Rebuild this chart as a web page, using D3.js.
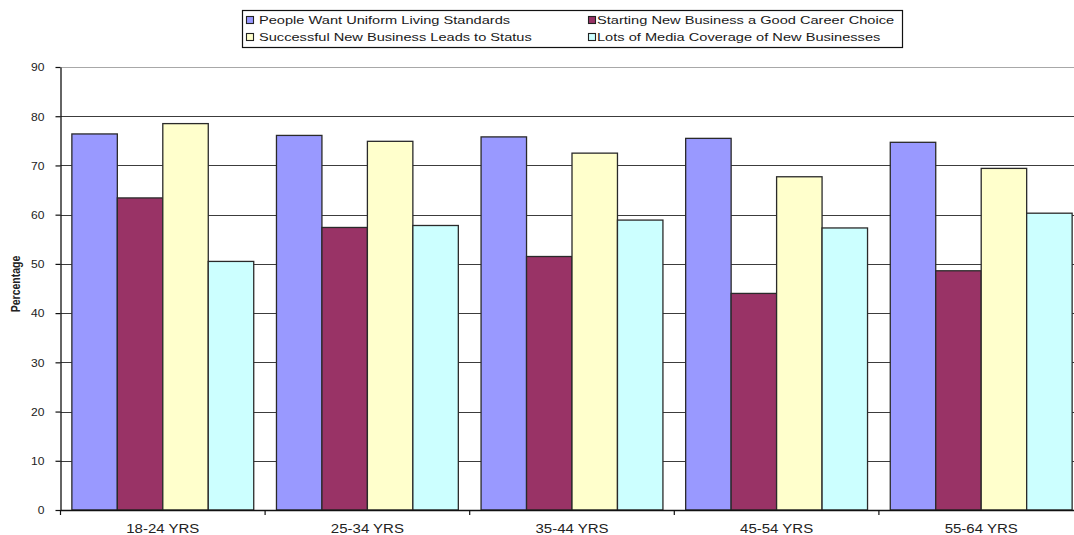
<!DOCTYPE html>
<html>
<head>
<meta charset="utf-8">
<script src="https://cdn.jsdelivr.net/npm/d3@7"></script>
<style>
  html, body { margin: 0; padding: 0; background: #fff; }
  svg { display: block; font-family: "Liberation Sans", Arial, sans-serif; }
</style>
</head>
<body>
<svg id="chart" width="1074" height="535"></svg>
<script>
// Age groups and the four survey statements (percent agreeing)
const categories = ["18-24 YRS", "25-34 YRS", "35-44 YRS", "45-54 YRS", "55-64 YRS"];
const seriesNames = [
  "People Want Uniform Living Standards",
  "Starting New Business a Good Career Choice",
  "Successful New Business Leads to Status",
  "Lots of Media Coverage of New Businesses"
];
const uniformLiving = [76.4, 76.1, 75.8, 75.5, 74.7];
const goodCareer    = [63.4, 57.4, 51.5, 44.0, 48.6];
const leadsToStatus = [78.5, 74.9, 72.5, 67.7, 69.4];
const mediaCoverage = [50.5, 57.8, 58.9, 57.3, 60.3];
const yTicks = [0, 10, 20, 30, 40, 50, 60, 70, 80, 90];
const colors = ["#9999ff", "#993366", "#ffffcc", "#ccffff"];

const seriesValues = [uniformLiving, goodCareer, leadsToStatus, mediaCoverage];

const svg = d3.select("#chart");
const plot = { left: 60.5, right: 1083.5, top: 67, bottom: 510 };

const x0 = d3.scaleBand().domain(categories).range([plot.left, plot.right]).padding(0);
const x1 = d3.scaleBand().domain(d3.range(seriesNames.length))
  .range([0, x0.bandwidth()]).paddingInner(0).paddingOuter(0.25);
const y = d3.scaleLinear().domain([0, 90]).range([plot.bottom, plot.top]);

// stretch text horizontally (wide, flat lettering)
function stretch(sel, sx) {
  sel.each(function () {
    const w = this.getComputedTextLength();
    d3.select(this).attr("textLength", w * sx).attr("lengthAdjust", "spacingAndGlyphs");
  });
}

// gridlines
svg.append("g").selectAll("line")
  .data(yTicks.filter(t => t > 0))
  .join("line")
  .attr("x1", plot.left).attr("x2", plot.right)
  .attr("y1", d => Math.round(y(d)) + 0.5).attr("y2", d => Math.round(y(d)) + 0.5)
  .attr("stroke", d => d === 90 ? "#a8a8a8" : "#3c3c3c")
  .attr("stroke-width", 1.1);

// bars
const groups = svg.append("g").selectAll("g")
  .data(categories)
  .join("g")
  .attr("transform", d => `translate(${x0(d)},0)`);

groups.selectAll("rect")
  .data((c, i) => seriesValues.map((vals, s) => ({ s, v: vals[i] })))
  .join("rect")
  .attr("x", d => x1(d.s))
  .attr("width", x1.bandwidth())
  .attr("y", d => y(d.v))
  .attr("height", d => y(0) - y(d.v))
  .attr("fill", d => colors[d.s])
  .attr("stroke", "#2a2a2a")
  .attr("stroke-width", 1.3);

// y axis
const yAxis = svg.append("g")
  .attr("transform", `translate(${plot.left},0)`)
  .call(d3.axisLeft(y).tickValues(yTicks).tickSize(5).tickPadding(11).tickSizeOuter(0));
yAxis.select(".domain").attr("stroke", "#111").attr("stroke-width", 1.3);
yAxis.selectAll(".tick line").attr("stroke", "#111").attr("stroke-width", 1.2);
yAxis.selectAll(".tick text")
  .attr("font-size", 10.5).attr("fill", "#222").attr("dy", "0.36em");
stretch(yAxis.selectAll(".tick text"), 1.15);

// x axis with boundary ticks
const xAxis = svg.append("g")
  .attr("transform", `translate(0,${plot.bottom})`)
  .call(d3.axisBottom(x0).tickSize(0).tickPadding(14).tickSizeOuter(0));
xAxis.select(".domain").attr("stroke", "#111").attr("stroke-width", 1.3);
xAxis.selectAll(".tick text").attr("font-size", 12).attr("fill", "#222");
stretch(xAxis.selectAll(".tick text"), 1.25);

const boundaries = categories.map(c => x0(c)).concat([plot.right]);
xAxis.append("g").selectAll("line")
  .data(boundaries)
  .join("line")
  .attr("x1", d => d).attr("x2", d => d)
  .attr("y1", 0).attr("y2", 5)
  .attr("stroke", "#111").attr("stroke-width", 1.2);

// y axis title
svg.append("text")
  .attr("transform", "translate(20,284) scale(1.3,1) rotate(-90)")
  .attr("text-anchor", "middle")
  .attr("font-size", 10.5)
  .attr("font-weight", "bold")
  .attr("fill", "#222")
  .text("Percentage");

// legend
const legend = svg.append("g");
legend.append("rect")
  .attr("x", 242.5).attr("y", 10.5).attr("width", 660).attr("height", 37)
  .attr("fill", "#fff").attr("stroke", "#111").attr("stroke-width", 1.2);

const legendPos = [
  { sx: 246, tx: 259, row: 0 },
  { sx: 588, tx: 597, row: 0 },
  { sx: 246, tx: 259, row: 1 },
  { sx: 588, tx: 597, row: 1 }
];
const rowGap = 17;
const items = legend.selectAll("g.item")
  .data(seriesNames)
  .join("g")
  .attr("class", "item");
items.append("rect")
  .attr("x", (d, i) => legendPos[i].sx + 0.5)
  .attr("y", (d, i) => 16.5 + legendPos[i].row * rowGap)
  .attr("width", 7).attr("height", 7)
  .attr("fill", (d, i) => colors[i])
  .attr("stroke", "#222").attr("stroke-width", 1.1);
const legendText = items.append("text")
  .attr("x", (d, i) => legendPos[i].tx)
  .attr("y", (d, i) => 24 + legendPos[i].row * rowGap)
  .attr("font-size", 11.5)
  .attr("fill", "#1a1a1a")
  .text(d => d);
stretch(legendText, 1.27);
</script>
</body>
</html>
